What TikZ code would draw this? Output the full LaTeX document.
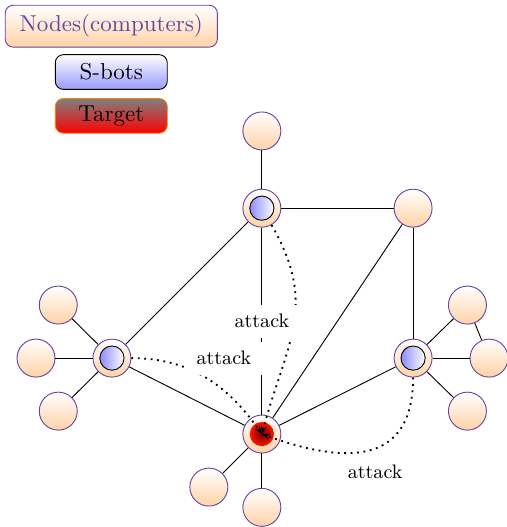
\documentclass[tikz,border=0pt]{standalone}
\usetikzlibrary{arrows.meta}
\definecolor{pcborder}{RGB}{100,70,160}
\begin{document}
\begin{tikzpicture}[
		pc/.style={circle, draw=pcborder, top color=white, bottom color=orange!35, minimum size=0.58cm, inner sep=0pt},
		sbot/.style={circle, draw=black, left color=blue!45, right color=white, minimum size=0.37cm, inner sep=0pt},
		hit/.style={circle, inner color=red!45!black, outer color=red!85!orange, minimum size=0.37cm, inner sep=0pt},
		key/.style={rounded corners=3.5pt, minimum width=1.71cm, minimum height=0.53cm, inner sep=0pt},
		atk/.style={fill=white, inner xsep=5pt, inner ysep=4.2pt, font=\fontsize{8.5}{10}\selectfont},
		attackpath/.style={dotted, thick, -{Stealth[length=3.5pt]}}
	]
			\useasboundingbox (0,0) rectangle (7.73,-8.05);
			% legend
			\node [key, draw=pcborder, top color=white, bottom color=orange!35, text=pcborder, minimum width=3.24cm, minimum height=0.64cm] (lgnodes) at (1.70,-0.40) {Nodes(computers)};
			\node [key, draw=black, top color=white, bottom color=blue!40] (lgsbots) at (1.70,-1.10) {S-bots};
			\node [key, draw=orange, top color=gray, bottom color=red] (lgtarget) at (1.70,-1.77) {Target};
			% computers
			\node [pc] (top) at (4.00,-2.00) {};
			\node [pc] (sa) at (4.00,-3.18) {};
			\node [sbot] (sa-in) at (sa) {};
			\node [pc] (rt) at (6.31,-3.18) {};
			\node [pc] (sl) at (1.71,-5.47) {};
			\node [sbot] (sl-in) at (sl) {};
			\node [pc] (sr) at (6.31,-5.47) {};
			\node [sbot] (sr-in) at (sr) {};
			\node [pc] (tg) at (4.00,-6.63) {};
			\node [hit] (tg-in) at (tg) {};
			\node [pc] (l1) at (0.89,-4.66) {};
			\node [pc] (l2) at (0.55,-5.47) {};
			\node [pc] (l3) at (0.89,-6.28) {};
			\node [pc] (r1) at (7.14,-4.66) {};
			\node [pc] (r2) at (7.47,-5.47) {};
			\node [pc] (r3) at (7.14,-6.28) {};
			\node [pc] (b1) at (3.19,-7.44) {};
			\node [pc] (b2) at (4.00,-7.75) {};
			% links
			\draw (top) -- (sa);
			\draw (sa) -- (rt);
			\draw (sa) -- (sl);
			\draw (rt) -- (tg);
			\draw (rt) -- (sr);
			\draw (sl) -- (tg);
			\draw (sr) -- (tg);
			\draw (tg) -- (b1);
			\draw (tg) -- (b2);
			\draw (l1) -- (sl);
			\draw (l2) -- (sl);
			\draw (l3) -- (sl);
			\draw (r1) -- (sr);
			\draw (r2) -- (sr);
			\draw (r3) -- (sr);
			\draw (r1) -- (r2);
			% attacks
			\draw [attackpath] (sl) to [out=0, in=125] (tg.center);
			\draw [attackpath] (sa) to [out=-60, in=75, looseness=1.15] (tg.center);
			\draw [attackpath] (sr) to [out=-90, in=-20, looseness=1.4] (tg.center);
			\draw (sa) -- node [atk] (atk-mid) {attack} (tg);
			\node [atk] (atk-left) at (3.42,-5.47) {attack};
			\node [atk] (atk-right) at (5.73,-7.21) {attack};
\end{tikzpicture}
\end{document}
